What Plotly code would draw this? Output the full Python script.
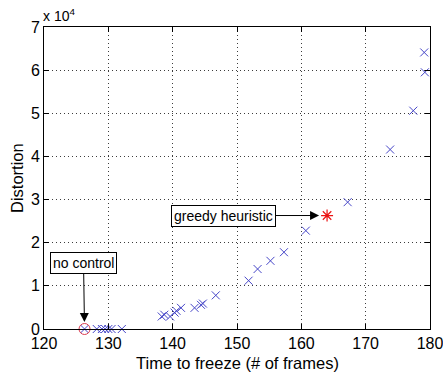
import plotly.graph_objects as go

# Data
time_frames = [126.3, 128.2, 129.0, 129.5, 130.0, 130.5, 132.1,
               138.3, 138.7, 139.6, 140.3, 140.6, 141.3, 143.4, 144.4, 144.7,
               146.7, 151.8, 153.2, 155.2, 157.3, 160.7, 167.2, 173.8, 177.4,
               179.1, 179.2]
distortion = [0, 0, 0, 0, 0, 0, 0,
              2900, 3300, 2900, 3800, 4200, 4900, 4900, 5600, 5900,
              7800, 11200, 13900, 15800, 17800, 22800, 29400, 41600, 50600,
              64100, 59500]
greedy_x = [164.0]
greedy_y = [26300]
nocontrol_x = [126.3]
nocontrol_y = [0]

ytick_vals = [0, 10000, 20000, 30000, 40000, 50000, 60000, 70000]
ytick_text = ["0", "1", "2", "3", "4", "5", "6", "7"]
xtick_vals = [120, 130, 140, 150, 160, 170, 180]

FONT = "Liberation Sans, Arial, sans-serif"
BLUE = "rgb(70,70,200)"

fig = go.Figure()
fig.add_trace(go.Scatter(x=time_frames, y=distortion, mode="markers",
                         marker=dict(symbol="x-thin-open", size=8, color=BLUE,
                                     line=dict(color=BLUE, width=1)),
                         showlegend=False, cliponaxis=False))
fig.add_trace(go.Scatter(x=greedy_x, y=greedy_y, mode="markers",
                         marker=dict(symbol="asterisk-open", size=10, color="rgb(235,20,20)",
                                     line=dict(color="rgb(235,20,20)", width=1.2)),
                         showlegend=False))
fig.add_trace(go.Scatter(x=nocontrol_x, y=nocontrol_y, mode="markers",
                         marker=dict(symbol="circle-open", size=11, color="rgb(220,60,80)",
                                     line=dict(color="rgb(220,60,80)", width=1)),
                         showlegend=False, cliponaxis=False))

axis_common = dict(showline=True, linecolor="black", linewidth=1, mirror="ticks",
                   ticks="inside", ticklen=5, tickcolor="black", automargin=False,
                   showgrid=True, gridcolor="rgb(60,60,60)", griddash="1px,3px", gridwidth=1,
                   zeroline=False, ticklabeloverflow="allow",
                   tickfont=dict(family=FONT, size=16, color="black"))

fig.update_xaxes(range=[120, 180], tickvals=xtick_vals, **axis_common)
fig.update_yaxes(range=[0, 70000], tickvals=ytick_vals, ticktext=ytick_text, **axis_common)

# Axis titles
fig.add_annotation(x=0.5, y=-0.113, xref="paper", yref="paper", xanchor="center",
                   yanchor="middle", text="Time to freeze (# of frames)", showarrow=False,
                   font=dict(family=FONT, size=16.5, color="black"))
fig.add_annotation(x=-0.07, y=0.5, xref="paper", yref="paper", xanchor="center",
                   yanchor="middle", text="Distortion", textangle=-90, showarrow=False,
                   font=dict(family=FONT, size=16.5, color="black"))

fig.add_annotation(x=greedy_x[0], y=greedy_y[0], text="greedy heuristic",
                   ax=-104, ay=0, showarrow=True, arrowhead=2, arrowsize=1.8,
                   arrowwidth=1, arrowcolor="black", standoff=8,
                   bordercolor="black", borderwidth=1, borderpad=2, bgcolor="white",
                   font=dict(family=FONT, size=14, color="black"))
fig.add_annotation(x=nocontrol_x[0], y=nocontrol_y[0], text="no control",
                   ax=-1, ay=-66, showarrow=True, arrowhead=2, arrowsize=1.8,
                   arrowwidth=1, arrowcolor="black", standoff=7,
                   bordercolor="black", borderwidth=1, borderpad=2, bgcolor="white",
                   font=dict(family=FONT, size=14, color="black"))
fig.add_annotation(x=0, y=1, xref="paper", yref="paper", xanchor="left", yanchor="bottom",
                   text="x 10<sup>4</sup>", showarrow=False, yshift=1, xshift=-3,
                   font=dict(family=FONT, size=14, color="black"))

fig.update_layout(width=443, height=374, margin=dict(l=44, r=13, t=27, b=45),
                  plot_bgcolor="white", paper_bgcolor="white",
                  font=dict(family=FONT, color="black"))

fig.write_html("out.html", config={"displayModeBar": False},
               post_script="document.body.style.margin='0px';document.body.style.overflow='hidden';")
